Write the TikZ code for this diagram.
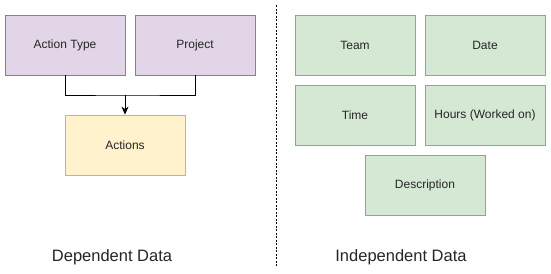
\documentclass[tikz,border=0pt]{standalone}
\usepackage{fontspec}
\setmainfont{Liberation Sans}
\usetikzlibrary{arrows.meta}

\definecolor{purplefill}{HTML}{E1D5E7}
\definecolor{purpleline}{HTML}{9673A6}
\definecolor{yellowfill}{HTML}{FFF2CC}
\definecolor{yellowline}{HTML}{D6B656}
\definecolor{greenfill}{HTML}{D5E8D4}
\definecolor{greenline}{HTML}{82B366}

\begin{document}
\begin{tikzpicture}[
			x=1pt, y=-1pt,
			box/.style={draw, line width=0.8pt, minimum width=120pt, minimum height=60pt,
				inner sep=0pt, font=\fontsize{12}{12}\selectfont, text=black!85},
			purplebox/.style={box, fill=purplefill, draw=purpleline},
			yellowbox/.style={box, fill=yellowfill, draw=yellowline},
			greenbox/.style={box, fill=greenfill, draw=greenline},
			titlefont/.style={font=\fontsize{16.5}{16.5}\selectfont, text=black!85}
		]
		\useasboundingbox[fill=white] (0, 0) rectangle (551, 273);

		% 左边: 依赖数据
		\node[purplebox] (atype) at (65, 45) {Action Type};
		\node[purplebox] (proj) at (195, 45) {Project};
		\node[yellowbox] (actions) at (125, 145) {Actions};
		\coordinate (join) at (125, 95);
		\draw[line width=0.8pt] (atype.south) |- (join) -| (proj.south);
		\draw[line width=0.8pt, -{Stealth[length=8pt, width=7pt, inset=2.5pt]}] (join) -- (actions.north);

		% 中间的虚线分隔
		\coordinate (sepTop) at (276, 5);
		\coordinate (sepBot) at (276, 266);
		\draw[line width=0.8pt, dash pattern=on 2pt off 1.5pt] (sepTop) -- (sepBot);

		% 右边: 独立数据
		\node[greenbox] (team) at (355, 45) {Team};
		\node[greenbox] (date) at (485, 45) {Date};
		\node[greenbox] (time) at (355, 115) {Time};
		\node[greenbox] (hours) at (485, 115) {Hours (Worked on)};
		\node[greenbox] (desc) at (425, 185) {Description};

		% 底部标题
		\node[titlefont] (deplabel) at (112, 257) {Dependent Data};
		\node[titlefont] (indeplabel) at (401, 257) {Independent Data};
	\end{tikzpicture}
\end{document}
